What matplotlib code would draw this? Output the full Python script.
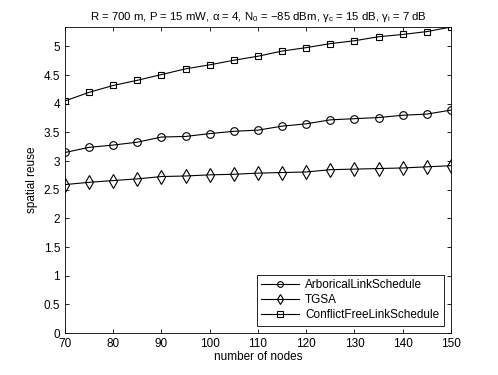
import numpy as np
import matplotlib
matplotlib.use('Agg')
import matplotlib.pyplot as plt

plt.rcParams['font.family'] = ['Liberation Sans', 'DejaVu Sans']
plt.rcParams['mathtext.fontset'] = 'custom'
plt.rcParams['mathtext.rm'] = 'Liberation Sans'
plt.rcParams['mathtext.it'] = 'Liberation Sans'

# numero di nodi
nodes = [70, 75, 80, 85, 90, 95, 100, 105, 110, 115, 120, 125, 130, 135, 140, 145, 150]
# spatial reuse per ogni algoritmo
arborical = [3.15, 3.24, 3.28, 3.33, 3.42, 3.43, 3.48, 3.52, 3.54, 3.61, 3.65, 3.72, 3.74, 3.76, 3.80, 3.82, 3.89]
tgsa = [2.59, 2.63, 2.66, 2.69, 2.73, 2.74, 2.76, 2.77, 2.79, 2.80, 2.81, 2.85, 2.86, 2.87, 2.88, 2.90, 2.92]
conflict_free = [4.05, 4.20, 4.32, 4.41, 4.51, 4.61, 4.68, 4.76, 4.83, 4.92, 4.98, 5.05, 5.10, 5.17, 5.21, 5.26, 5.34]

fig = plt.figure(figsize=(4.98, 3.75), dpi=100)
ax = fig.add_axes([0.1305, 0.112, 0.7751, 0.816])

ax.plot(nodes, arborical, '-o', color='black', lw=0.8, ms=5.5, mfc='none', mew=0.8,
        label='ArboricalLinkSchedule')
ax.plot(nodes, tgsa, '-d', color='black', lw=0.8, ms=7, mfc='none', mew=0.8,
        label='TGSA')
ax.plot(nodes, conflict_free, '-s', color='black', lw=0.8, ms=5, mfc='none', mew=0.8,
        label='ConflictFreeLinkSchedule')

ax.set_xlim(70, 150)
ax.set_ylim(0, max(conflict_free))
ax.set_xticks(range(70, 151, 10))
ax.set_yticks(np.arange(0, 5.01, 0.5))
ax.set_yticklabels(['0', '0.5', '1', '1.5', '2', '2.5', '3', '3.5', '4', '4.5', '5'])
ax.tick_params(direction='in', top=True, right=True, labelsize=8.5, length=3, width=0.6)
for s in ax.spines.values():
    s.set_linewidth(0.6)

ax.set_xlabel('number of nodes', fontsize=8.5, labelpad=1)
ax.set_ylabel('spatial reuse', fontsize=8.5, labelpad=4)
ax.set_title(r'R = 700 m, P = 15 mW, $\alpha$ = 4, N$_0$ = $-$85 dBm, $\gamma_c$ = 15 dB, $\gamma_i$ = 7 dB',
             fontsize=8.2, pad=5)

leg = ax.legend(loc='lower right', fontsize=8.5, fancybox=False, edgecolor='black',
                framealpha=1, markerscale=0.75, handlelength=3.2, borderaxespad=0.6,
                labelspacing=0.25, handletextpad=0.5)
leg.get_frame().set_linewidth(0.6)

fig.savefig('out.png', dpi=100)
